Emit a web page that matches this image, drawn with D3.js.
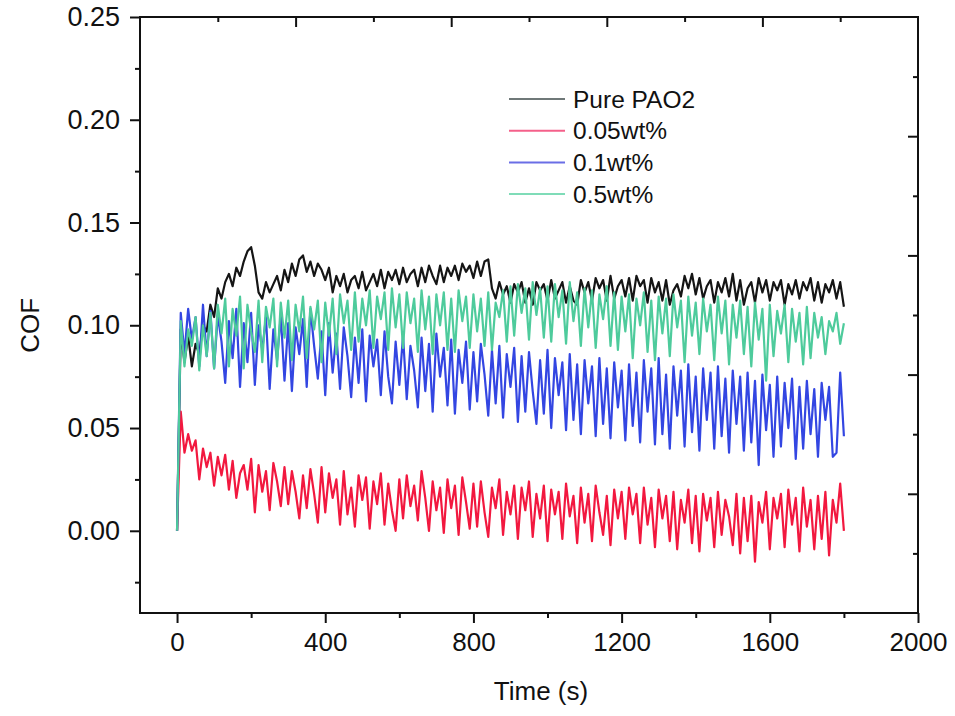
<!DOCTYPE html>
<html>
<head>
<meta charset="utf-8">
<script src="https://cdnjs.cloudflare.com/ajax/libs/d3/7.8.5/d3.min.js"></script>
<style>
  body { margin: 0; background: #fff; }
  .chart text { font-family: "Liberation Sans", Arial, sans-serif; fill: #111; }
</style>
</head>
<body>
<div class="chart"></div>
<script>
// sampling times (s), one value every 10 s from 0 to 1800
var times = d3.range(0, 1801, 10);

var pure = [
  0.000, 0.098, 0.082, 0.095, 0.080, 0.091, 0.086, 0.100, 0.097, 0.110,
  0.104, 0.118, 0.113, 0.121, 0.125, 0.119, 0.128, 0.124, 0.131, 0.136,
  0.138, 0.129, 0.116, 0.113, 0.121, 0.116, 0.120, 0.124, 0.117, 0.127,
  0.121, 0.130, 0.124, 0.132, 0.134, 0.126, 0.131, 0.124, 0.130, 0.127,
  0.122, 0.128, 0.116, 0.124, 0.119, 0.125, 0.116, 0.122, 0.124, 0.118,
  0.126, 0.117, 0.121, 0.125, 0.119, 0.127, 0.118, 0.126, 0.122, 0.127,
  0.120, 0.128, 0.121, 0.125, 0.127, 0.119, 0.128, 0.121, 0.129, 0.124,
  0.120, 0.129, 0.121, 0.128, 0.124, 0.129, 0.122, 0.130, 0.126, 0.129,
  0.123, 0.131, 0.124, 0.131, 0.132, 0.118, 0.113, 0.121, 0.115, 0.119,
  0.111, 0.120, 0.116, 0.121, 0.111, 0.118, 0.110, 0.121, 0.117, 0.120,
  0.112, 0.122, 0.113, 0.117, 0.121, 0.111, 0.119, 0.112, 0.110, 0.122,
  0.116, 0.121, 0.112, 0.123, 0.118, 0.122, 0.112, 0.124, 0.113, 0.119,
  0.122, 0.114, 0.123, 0.112, 0.124, 0.119, 0.122, 0.111, 0.123, 0.116,
  0.121, 0.112, 0.122, 0.110, 0.117, 0.120, 0.114, 0.124, 0.118, 0.125,
  0.115, 0.123, 0.113, 0.119, 0.122, 0.111, 0.121, 0.116, 0.123, 0.114,
  0.125, 0.112, 0.122, 0.110, 0.118, 0.121, 0.111, 0.123, 0.116, 0.122,
  0.112, 0.121, 0.117, 0.122, 0.110, 0.120, 0.115, 0.122, 0.113, 0.121,
  0.117, 0.123, 0.112, 0.121, 0.111, 0.120, 0.116, 0.122, 0.113, 0.121,
  0.109
];

var wt005 = [
  0.000, 0.058, 0.038, 0.047, 0.039, 0.044, 0.025, 0.040, 0.031, 0.038,
  0.022, 0.036, 0.027, 0.037, 0.020, 0.034, 0.016, 0.028, 0.032, 0.020,
  0.035, 0.009, 0.032, 0.019, 0.029, 0.010, 0.033, 0.024, 0.012, 0.031,
  0.013, 0.029, 0.019, 0.006, 0.027, 0.011, 0.030, 0.018, 0.004, 0.031,
  0.009, 0.028, 0.016, 0.025, 0.003, 0.029, 0.008, 0.021, 0.002, 0.027,
  0.015, 0.026, 0.001, 0.024, 0.013, 0.028, 0.003, 0.023, 0.010, 0.000,
  0.025, 0.006, 0.027, 0.012, 0.022, 0.005, 0.029, 0.016, 0.000, 0.024,
  0.010, 0.021, -0.001, 0.025, 0.011, 0.022, -0.002, 0.026, 0.014, 0.001,
  0.023, 0.002, 0.024, 0.009, -0.003, 0.021, 0.011, 0.025, -0.002, 0.019,
  0.008, 0.022, -0.004, 0.021, 0.010, 0.024, -0.003, 0.018, 0.006, 0.022,
  -0.005, 0.020, 0.008, 0.019, -0.004, 0.023, 0.007, 0.017, -0.006, 0.021,
  0.004, 0.018, -0.005, 0.022, 0.009, -0.002, 0.017, -0.007, 0.020, 0.006,
  0.019, -0.004, 0.021, 0.008, 0.018, -0.006, 0.021, 0.003, 0.016, -0.008,
  0.020, 0.006, 0.017, -0.005, 0.019, -0.009, 0.015, 0.004, 0.020, -0.006,
  0.017, -0.010, 0.018, 0.005, 0.016, -0.008, 0.019, -0.002, 0.015, 0.007,
  -0.007, 0.018, -0.011, 0.016, -0.005, 0.017, -0.015, 0.014, 0.004, 0.019,
  -0.009, 0.016, 0.006, 0.018, -0.008, 0.020, 0.003, 0.016, -0.010, 0.021,
  0.002, 0.015, -0.009, 0.017, -0.004, 0.019, -0.012, 0.015, 0.004, 0.023,
  0.000
];

var wt01 = [
  0.000, 0.106, 0.086, 0.108, 0.093, 0.104, 0.080, 0.110, 0.085, 0.107,
  0.079, 0.105, 0.092, 0.072, 0.102, 0.084, 0.108, 0.070, 0.101, 0.082,
  0.106, 0.071, 0.100, 0.088, 0.104, 0.069, 0.098, 0.083, 0.105, 0.073,
  0.101, 0.068, 0.099, 0.086, 0.103, 0.070, 0.108, 0.090, 0.074, 0.097,
  0.066, 0.101, 0.077, 0.096, 0.069, 0.099, 0.085, 0.065, 0.094, 0.072,
  0.098, 0.063, 0.095, 0.080, 0.093, 0.066, 0.097, 0.075, 0.062, 0.092,
  0.071, 0.095, 0.064, 0.090, 0.078, 0.060, 0.094, 0.068, 0.091, 0.058,
  0.096, 0.075, 0.089, 0.061, 0.093, 0.057, 0.088, 0.072, 0.092, 0.059,
  0.087, 0.063, 0.091, 0.076, 0.056, 0.088, 0.062, 0.090, 0.055, 0.086,
  0.070, 0.089, 0.053, 0.085, 0.058, 0.087, 0.068, 0.052, 0.083, 0.057,
  0.088, 0.050, 0.084, 0.066, 0.082, 0.049, 0.086, 0.054, 0.081, 0.047,
  0.083, 0.062, 0.080, 0.046, 0.084, 0.052, 0.079, 0.045, 0.082, 0.060,
  0.078, 0.044, 0.081, 0.051, 0.077, 0.043, 0.083, 0.058, 0.079, 0.042,
  0.084, 0.047, 0.076, 0.040, 0.080, 0.056, 0.078, 0.041, 0.081, 0.048,
  0.075, 0.039, 0.079, 0.054, 0.077, 0.040, 0.080, 0.046, 0.074, 0.038,
  0.078, 0.052, 0.075, 0.039, 0.077, 0.043, 0.073, 0.032, 0.076, 0.049,
  0.071, 0.036, 0.075, 0.041, 0.072, 0.050, 0.074, 0.035, 0.070, 0.040,
  0.073, 0.047, 0.069, 0.036, 0.072, 0.054, 0.070, 0.036, 0.038, 0.077,
  0.046
];

var wt05 = [
  0.000, 0.102, 0.080, 0.098, 0.090, 0.104, 0.078, 0.100, 0.085, 0.106,
  0.079, 0.110, 0.096, 0.113, 0.080, 0.108, 0.095, 0.114, 0.079, 0.110,
  0.097, 0.087, 0.112, 0.082, 0.109, 0.099, 0.113, 0.080, 0.111, 0.094,
  0.112, 0.083, 0.110, 0.097, 0.114, 0.084, 0.109, 0.098, 0.112, 0.082,
  0.111, 0.095, 0.113, 0.086, 0.115, 0.101, 0.112, 0.088, 0.116, 0.092,
  0.113, 0.100, 0.117, 0.089, 0.114, 0.103, 0.116, 0.088, 0.118, 0.099,
  0.115, 0.089, 0.116, 0.101, 0.113, 0.087, 0.117, 0.098, 0.114, 0.086,
  0.115, 0.100, 0.116, 0.088, 0.113, 0.087, 0.117, 0.102, 0.114, 0.089,
  0.115, 0.097, 0.113, 0.090, 0.116, 0.088, 0.111, 0.104, 0.117, 0.092,
  0.119, 0.095, 0.120, 0.106, 0.118, 0.093, 0.121, 0.105, 0.118, 0.094,
  0.119, 0.092, 0.120, 0.104, 0.117, 0.091, 0.121, 0.102, 0.116, 0.090,
  0.118, 0.099, 0.117, 0.089, 0.115, 0.103, 0.119, 0.090, 0.116, 0.088,
  0.114, 0.097, 0.115, 0.084, 0.113, 0.100, 0.116, 0.087, 0.112, 0.083,
  0.114, 0.096, 0.113, 0.085, 0.115, 0.099, 0.112, 0.082, 0.114, 0.095,
  0.111, 0.086, 0.113, 0.097, 0.110, 0.083, 0.114, 0.096, 0.112, 0.081,
  0.110, 0.094, 0.112, 0.086, 0.109, 0.080, 0.111, 0.093, 0.108, 0.073,
  0.110, 0.085, 0.107, 0.096, 0.110, 0.082, 0.108, 0.092, 0.106, 0.081,
  0.109, 0.084, 0.106, 0.094, 0.104, 0.086, 0.102, 0.097, 0.106, 0.091,
  0.101
];

var seriesNames = ['Pure PAO2', '0.05wt%', '0.1wt%', '0.5wt%'];
var seriesValues = [pure, wt005, wt01, wt05];
var seriesColors = ['#151515', '#f2183f', '#3346e2', '#4ecb9c'];
var legendColors = ['#6f7878', '#f4608a', '#6a6ee6', '#7fdcb8'];

var xTicks = [0, 400, 800, 1200, 1600, 2000];
var xMinor = [200, 600, 1000, 1400, 1800];
var yTicks = [0.00, 0.05, 0.10, 0.15, 0.20, 0.25];
var yMinor = [-0.025, 0.025, 0.075, 0.125, 0.175, 0.225];

var W = 955, H = 716;
var margin = { top: 17, right: 37, bottom: 103, left: 140 };
var width = W - margin.left - margin.right;
var height = H - margin.top - margin.bottom;

var svg = d3.select('.chart')
  .append('svg')
    .attr('width', W)
    .attr('height', H)
  .append('g')
    .attr('transform', 'translate(' + margin.left + ', ' + margin.top + ')');

var xScale = d3.scaleLinear().domain([-100, 2000]).range([0, width]);
var yScale = d3.scaleLinear().domain([-0.04, 0.25]).range([height, 0]);
// top and right frame axes just carry 5 evenly spaced majors with minors between
var topScale = d3.scaleLinear().domain([0, 10]).range([0, width]);
var rightScale = d3.scaleLinear().domain([0, 10]).range([height, 0]);

var major = 10, minor = 5;

function styleAxis(fontSize) {
  return function(g) {
    g.select('.domain').remove();
    g.selectAll('line').attr('stroke', '#111').attr('stroke-width', 2);
    g.selectAll('text').style('font-size', fontSize + 'px');
  };
}

// bottom axis
svg.append('g')
  .attr('transform', 'translate(0,' + height + ')')
  .call(d3.axisBottom(xScale).tickValues(xTicks).tickSize(major).tickPadding(10)
    .tickFormat(d3.format('d')))
  .call(styleAxis(26));
svg.append('g')
  .attr('transform', 'translate(0,' + height + ')')
  .call(d3.axisBottom(xScale).tickValues(xMinor).tickSize(minor).tickFormat(''))
  .call(styleAxis(26));

// left axis
svg.append('g')
  .call(d3.axisLeft(yScale).tickValues(yTicks).tickSize(major).tickPadding(10)
    .tickFormat(d3.format('.2f')))
  .call(styleAxis(27));
svg.append('g')
  .call(d3.axisLeft(yScale).tickValues(yMinor).tickSize(minor).tickFormat(''))
  .call(styleAxis(27));

// top axis, ticks inward
svg.append('g')
  .call(d3.axisBottom(topScale).tickValues([2, 4, 6, 8]).tickSize(major).tickFormat(''))
  .call(styleAxis(26));
svg.append('g')
  .call(d3.axisBottom(topScale).tickValues([1, 3, 5, 7, 9]).tickSize(minor).tickFormat(''))
  .call(styleAxis(26));

// right axis, ticks inward
svg.append('g')
  .attr('transform', 'translate(' + width + ',0)')
  .call(d3.axisLeft(rightScale).tickValues([2, 4, 6, 8]).tickSize(major).tickFormat(''))
  .call(styleAxis(26));
svg.append('g')
  .attr('transform', 'translate(' + width + ',0)')
  .call(d3.axisLeft(rightScale).tickValues([1, 3, 5, 7, 9]).tickSize(minor).tickFormat(''))
  .call(styleAxis(26));

// curves
var line = d3.line()
  .x((d, i) => xScale(times[i]))
  .y(d => yScale(d));

svg.append('g')
  .selectAll('path')
  .data(seriesValues)
  .enter()
  .append('path')
    .attr('d', line)
    .attr('fill', 'none')
    .attr('stroke', (d, i) => seriesColors[i])
    .attr('stroke-width', 2.2)
    .attr('stroke-linejoin', 'round');

// frame
svg.append('rect')
  .attr('width', width)
  .attr('height', height)
  .attr('fill', 'none')
  .attr('stroke', '#111')
  .attr('stroke-width', 2);

// legend
var legend = svg.append('g')
  .attr('transform', 'translate(' + (509 - margin.left) + ',' + (99 - margin.top) + ')');

var rows = legend.selectAll('g')
  .data(seriesNames)
  .enter()
  .append('g')
    .attr('transform', (d, i) => 'translate(0,' + (i * 31.7) + ')');

rows.append('line')
  .attr('x1', 0).attr('x2', 56)
  .attr('stroke', (d, i) => legendColors[i])
  .attr('stroke-width', 2);

rows.append('text')
  .attr('x', 64)
  .attr('dy', '0.35em')
  .style('font-size', '24.5px')
  .text(d => d);

// axis titles
svg.append('text')
  .attr('x', width / 2 + 12)
  .attr('y', height + 87)
  .style('text-anchor', 'middle')
  .style('font-size', '26px')
  .text('Time (s)');

svg.append('text')
  .attr('transform', 'rotate(-90)')
  .attr('x', -(yScale(0.1)))
  .attr('y', -101)
  .style('text-anchor', 'middle')
  .style('font-size', '26px')
  .text('COF');
</script>
</body>
</html>
